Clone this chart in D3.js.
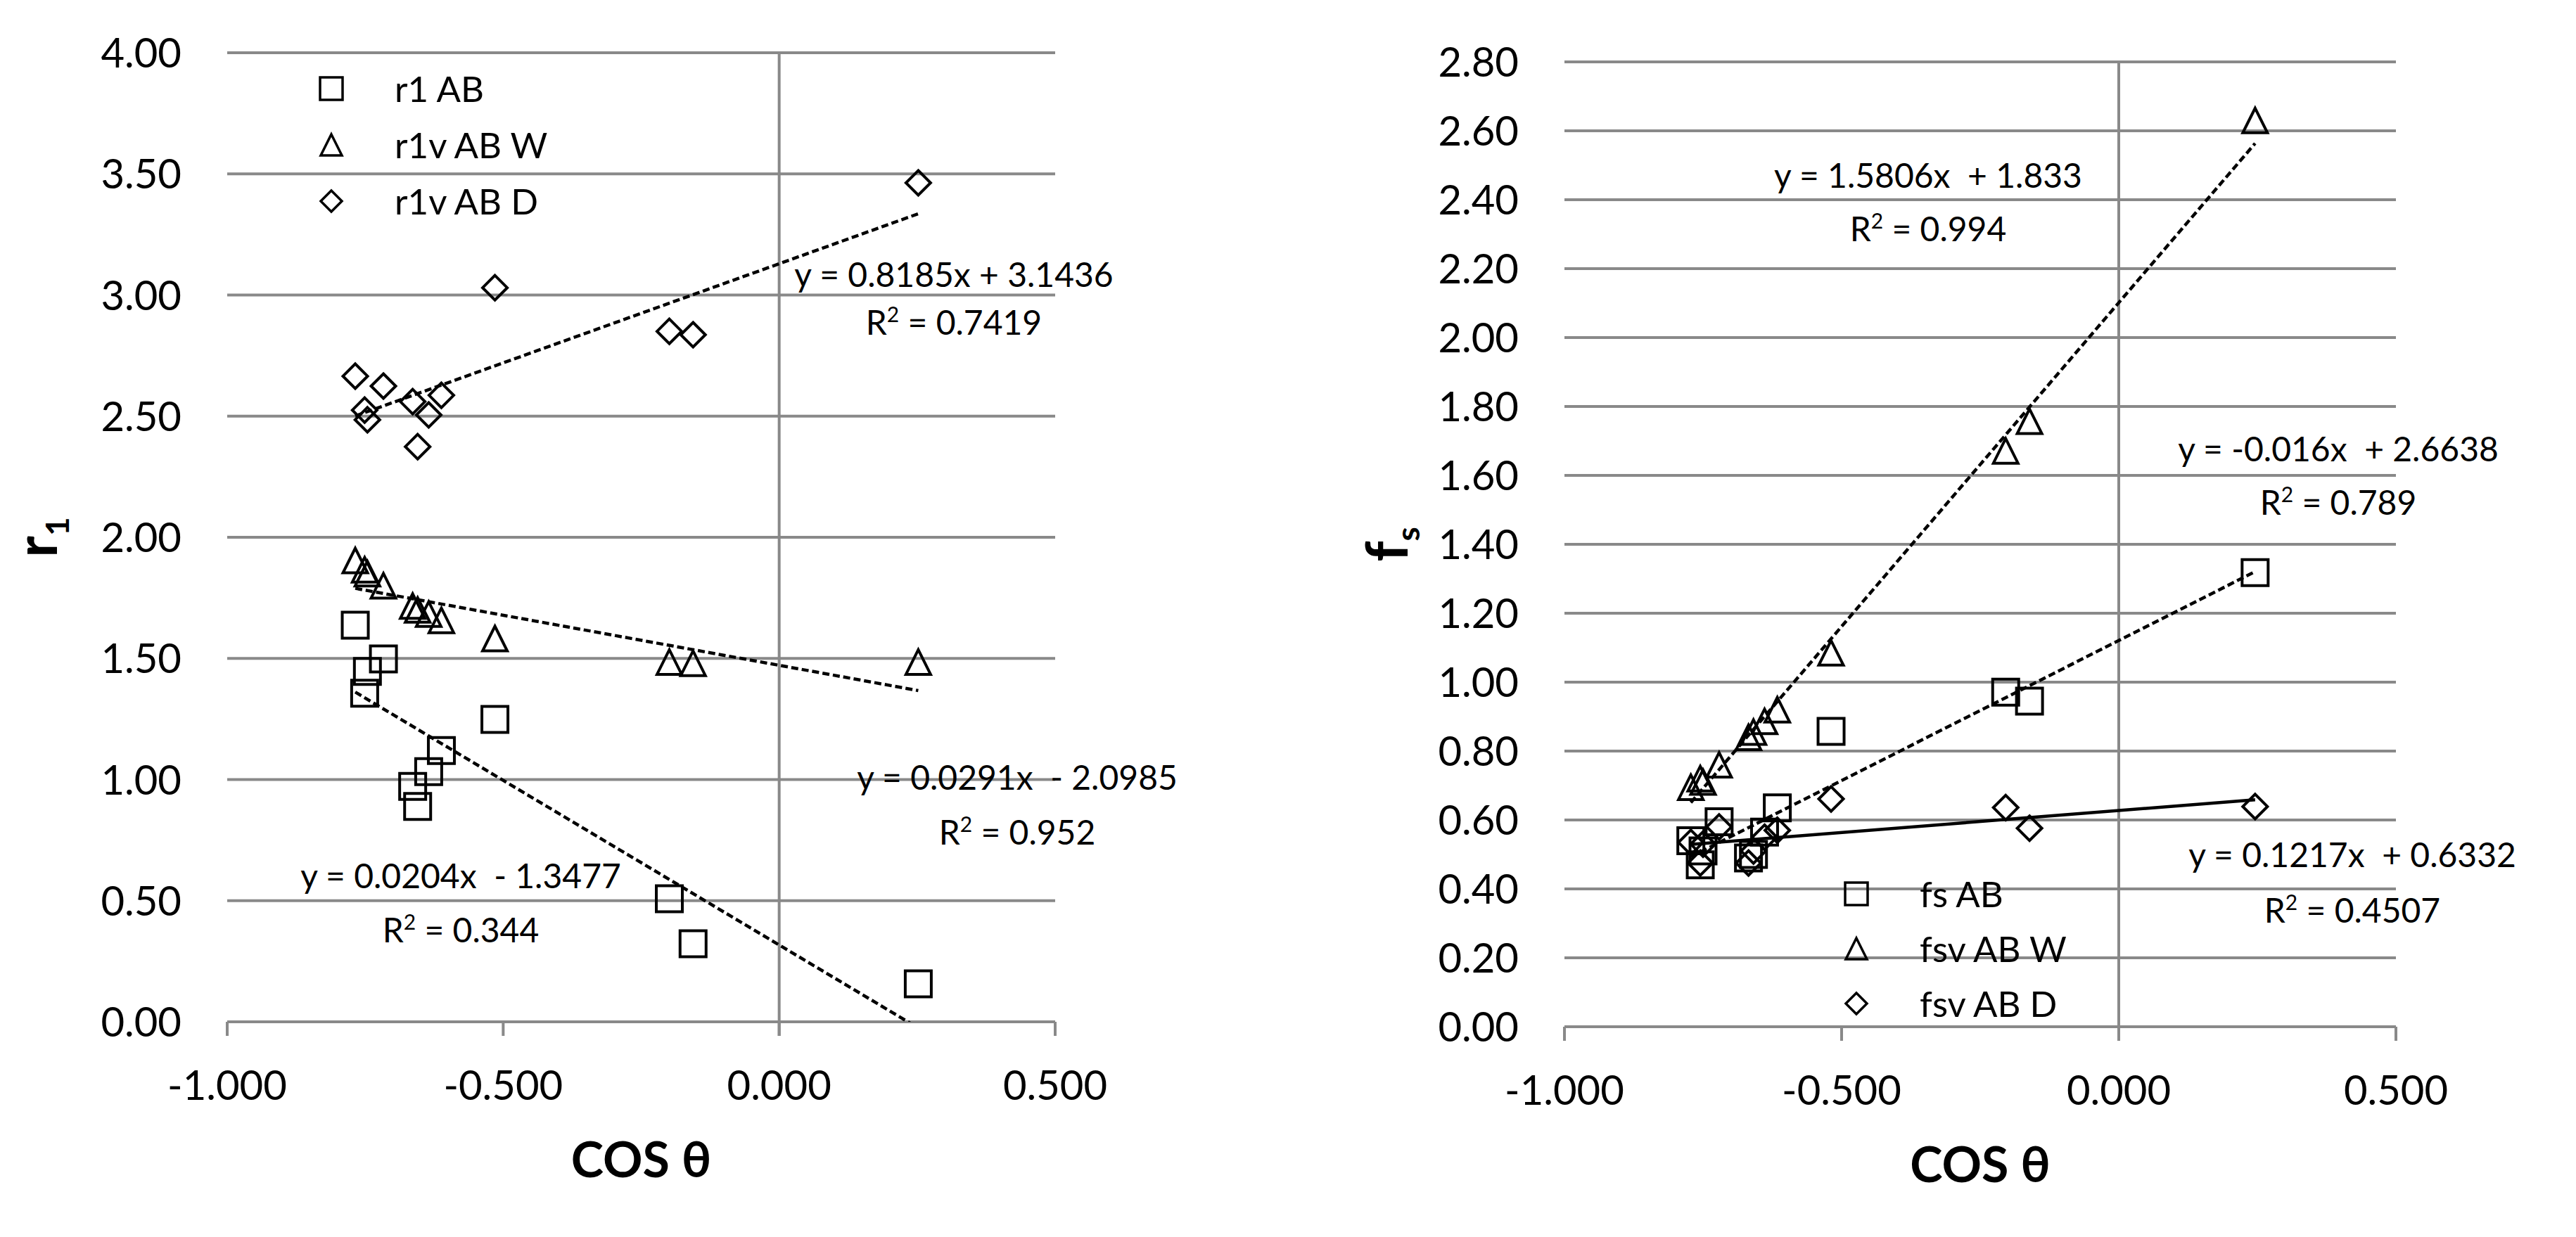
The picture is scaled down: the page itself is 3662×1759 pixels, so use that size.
<!DOCTYPE html>
<html>
<head>
<meta charset="utf-8">
<script src="https://cdn.jsdelivr.net/npm/d3@7"></script>
<style>
  body { margin: 0; background: #fff; }
  text { font-family: Lato, "Open Sans", sans-serif; fill: #000; white-space: pre; }
</style>
</head>
<body>
<svg id="chart" width="3662" height="1759"></svg>
<script>
// ---- data ----
const cosThetaLeft  = [-0.768, -0.751, -0.746, -0.717, -0.664, -0.655, -0.635, -0.612, -0.515, -0.199, -0.156, 0.252];
const r1AB   = [1.637, 1.356, 1.446, 1.498, 0.972, 0.889, 1.033, 1.120, 1.248, 0.508, 0.322, 0.157];
const r1vABW = [1.904, 1.866, 1.850, 1.800, 1.716, 1.700, 1.683, 1.657, 1.582, 1.485, 1.480, 1.485];
const r1vABD = [2.665, 2.525, 2.485, 2.624, 2.560, 2.374, 2.505, 2.586, 3.030, 2.850, 2.836, 3.463];

const cosThetaRight = [-0.772, -0.755, -0.750, -0.721, -0.668, -0.659, -0.639, -0.616, -0.519, -0.204, -0.161, 0.246];
const fsAB   = [0.540, 0.470, 0.510, 0.595, 0.490, 0.500, 0.565, 0.635, 0.857, 0.971, 0.945, 1.318];
const fsvABW = [0.695, 0.720, 0.710, 0.760, 0.840, 0.855, 0.886, 0.920, 1.085, 1.671, 1.757, 2.630];
const fsvABD = [0.535, 0.475, 0.530, 0.580, 0.475, 0.510, 0.550, 0.570, 0.661, 0.636, 0.576, 0.639];

const xTicks  = [-1, -0.5, 0, 0.5];
const r1Ticks = [0, 0.5, 1, 1.5, 2, 2.5, 3, 3.5, 4];
const fsTicks = [0, 0.2, 0.4, 0.6, 0.8, 1, 1.2, 1.4, 1.6, 1.8, 2, 2.2, 2.4, 2.6, 2.8];

const leftNames  = ["r1 AB", "r1v AB W", "r1v AB D"];
const rightNames = ["fs AB", "fsv AB W", "fsv AB D"];
const shapes = ["square", "triangle", "diamond"];

const leftEquations  = ["y = 0.8185x + 3.1436", "y = 0.0291x  - 2.0985", "y = 0.0204x  - 1.3477"];
const leftR2         = ["0.7419", "0.952", "0.344"];
const rightEquations = ["y = 1.5806x  + 1.833", "y = -0.016x  + 2.6638", "y = 0.1217x  + 0.6332"];
const rightR2        = ["0.994", "0.789", "0.4507"];

// ---- layout ----
const svg = d3.select("#chart");
const gridColor = "#898989";

function markerPath(shape, s) {
    const h = s / 2;
    if (shape === "square") return `M${-h},${-h}H${h}V${h}H${-h}Z`;
    if (shape === "triangle") return `M0,${-h}L${h},${h}L${-h},${h}Z`;
    return `M0,${-h}L${h},0L0,${h}L${-h},0Z`;
}
const markerSize = { square: 37, triangle: 35, diamond: 35 };
const legendSize = { square: 32, triangle: 30, diamond: 30 };

// least squares fit, like the excel linear trendline
function linearFit(xs, ys) {
    const mx = d3.mean(xs), my = d3.mean(ys);
    const sxy = d3.sum(xs, (x, i) => (x - mx) * (ys[i] - my));
    const sxx = d3.sum(xs, x => (x - mx) * (x - mx));
    const slope = sxy / sxx;
    return x => my + slope * (x - mx);
}

function drawPanel(cfg) {
    const g = svg.append("g");
    const x = d3.scaleLinear().domain([-1, 0.5]).range(cfg.xRange);
    const y = d3.scaleLinear().domain([0, cfg.yMax]).range(cfg.yRange);
    const x0 = x(-1), x1 = x(0.5), yTop = y(cfg.yMax), yBot = y(0);

    const clipId = "clip" + cfg.id;
    g.append("clipPath").attr("id", clipId)
        .append("rect")
        .attr("x", x0).attr("y", yTop)
        .attr("width", x1 - x0).attr("height", yBot - yTop);

    // horizontal gridlines (the 0 line is the x axis)
    g.selectAll("line.grid").data(cfg.yTicks)
        .join("line")
        .attr("class", "grid")
        .attr("x1", x0).attr("x2", x1)
        .attr("y1", d => y(d)).attr("y2", d => y(d))
        .style("stroke", gridColor)
        .style("stroke-width", 4);

    // vertical axis line at cos = 0
    g.append("line")
        .attr("x1", x(0)).attr("x2", x(0))
        .attr("y1", yTop).attr("y2", yBot + 20)
        .style("stroke", gridColor)
        .style("stroke-width", 4);

    // x tick marks
    g.selectAll("line.xtick").data(xTicks)
        .join("line")
        .attr("class", "xtick")
        .attr("x1", d => x(d)).attr("x2", d => x(d))
        .attr("y1", yBot).attr("y2", yBot + 20)
        .style("stroke", gridColor)
        .style("stroke-width", 4);

    // y tick labels
    g.selectAll("text.ylab").data(cfg.yTicks)
        .join("text")
        .attr("class", "ylab")
        .text(d => d.toFixed(2))
        .attr("x", x0 - 65)
        .attr("y", d => y(d) + 21)
        .attr("text-anchor", "end")
        .style("font-size", "58px");

    // x tick labels
    g.selectAll("text.xlab").data(xTicks)
        .join("text")
        .attr("class", "xlab")
        .text(d => d.toFixed(3))
        .attr("x", d => x(d))
        .attr("y", yBot + 111)
        .attr("text-anchor", "middle")
        .style("font-size", "58px");

    // axis titles
    g.append("text")
        .text("COS θ")
        .attr("x", (x0 + x1) / 2)
        .attr("y", yBot + 221)
        .attr("text-anchor", "middle")
        .style("font-size", "70px")
        .style("font-weight", "bold");

    const yt = g.append("text")
        .attr("transform", `translate(${cfg.yTitleX},${(yTop + yBot) / 2}) rotate(-90)`)
        .attr("text-anchor", "middle")
        .style("font-size", "82px")
        .style("font-weight", "bold");
    yt.append("tspan").text(cfg.yTitle[0]);
    yt.append("tspan").text(cfg.yTitle[1])
        .attr("dy", 17)
        .style("font-size", "46px");

    // trendlines, clipped to the plot area
    const trend = g.append("g").attr("clip-path", `url(#${clipId})`);
    cfg.series.forEach((s, i) => {
        const f = linearFit(cfg.xs, s);
        const ext = d3.extent(cfg.xs);
        trend.append("line")
            .attr("x1", x(ext[0])).attr("y1", y(f(ext[0])))
            .attr("x2", x(ext[1])).attr("y2", y(f(ext[1])))
            .style("stroke", "black")
            .style("stroke-width", 4.5)
            .style("stroke-dasharray", cfg.trendDash[i] ? "10,5" : null);
    });

    // markers
    cfg.series.forEach((s, i) => {
        g.selectAll(`path.m${i}`).data(s)
            .join("path")
            .attr("class", `m${i}`)
            .attr("d", markerPath(shapes[i], markerSize[shapes[i]]))
            .attr("transform", (d, j) => `translate(${x(cfg.xs[j])},${y(d)})`)
            .style("fill", "none")
            .style("stroke", "black")
            .style("stroke-width", 4);
    });

    // legend
    const lg = g.append("g");
    cfg.names.forEach((name, i) => {
        const cy = cfg.legend.y + i * cfg.legend.step;
        lg.append("path")
            .attr("d", markerPath(shapes[i], legendSize[shapes[i]]))
            .attr("transform", `translate(${cfg.legend.x},${cy})`)
            .style("fill", "none")
            .style("stroke", "black")
            .style("stroke-width", 3.5);
        lg.append("text")
            .text(name)
            .attr("x", cfg.legend.x + 90)
            .attr("y", cy + 19)
            .style("font-size", "51px");
    });

    // trendline equations
    cfg.equations.forEach((eq, i) => {
        const p = cfg.eqPos[i];
        g.append("text")
            .text(eq)
            .attr("x", p[0]).attr("y", p[1])
            .attr("text-anchor", "middle")
            .style("font-size", "48px");
        const r = g.append("text")
            .attr("x", p[0]).attr("y", p[2])
            .attr("text-anchor", "middle")
            .style("font-size", "48px");
        r.append("tspan").text("R");
        r.append("tspan").text("2").attr("dy", -18).style("font-size", "30px");
        r.append("tspan").text(" = " + cfg.r2[i]).attr("dy", 18);
    });
}

drawPanel({
    id: "L",
    xRange: [323, 1500],
    yRange: [1453, 75],
    yMax: 4,
    yTicks: r1Ticks,
    yTitle: ["r", "1"],
    yTitleX: 81,
    xs: cosThetaLeft,
    series: [r1AB, r1vABW, r1vABD],
    trendDash: [true, true, true],
    names: leftNames,
    legend: { x: 471, y: 126, step: 80 },
    equations: leftEquations,
    r2: leftR2,
    eqPos: [[1356, 408, 476], [1446, 1123, 1201], [655, 1263, 1340]]
});

drawPanel({
    id: "R",
    xRange: [2224, 3406],
    yRange: [1460, 88],
    yMax: 2.8,
    yTicks: fsTicks,
    yTitle: ["f", "s"],
    yTitleX: 2001,
    xs: cosThetaRight,
    series: [fsAB, fsvABW, fsvABD],
    trendDash: [true, true, false],
    names: rightNames,
    legend: { x: 2639, y: 1271, step: 78 },
    equations: rightEquations,
    r2: rightR2,
    eqPos: [[2741, 267, 343], [3324, 656, 732], [3344, 1233, 1312]]
});
</script>
</body>
</html>
